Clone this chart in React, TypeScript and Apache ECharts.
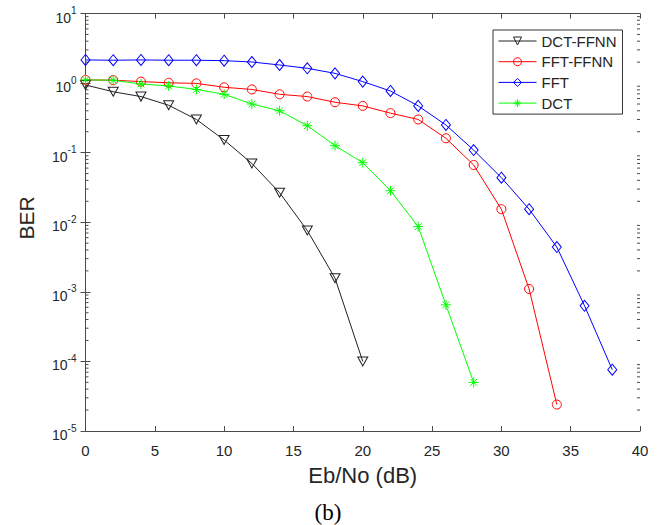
import React, { useEffect, useRef } from "react";
import * as echarts from "echarts";

const ebNo = [0, 2, 4, 6, 8, 10, 12, 14, 16, 18, 20, 22, 24, 26, 28, 30, 32, 34, 36, 38];
const dctFfnn = [0.94, 0.75, 0.64, 0.48, 0.3, 0.152, 0.07, 0.0266, 0.0076, 0.00157, 1.0e-4];
const fftFfnn = [1.11, 1.1, 1.05, 1.01, 0.99, 0.87, 0.81, 0.69, 0.64, 0.53, 0.47, 0.37, 0.3, 0.161, 0.0665, 0.0154, 0.0011, 2.4e-5];
const fft = [2.15, 2.13, 2.15, 2.13, 2.13, 2.1, 2.01, 1.82, 1.63, 1.38, 1.05, 0.77, 0.47, 0.25, 0.109, 0.0437, 0.0154, 0.0044, 6.3e-4, 7.6e-5];
const dct = [1.11, 1.1, 0.97, 0.91, 0.81, 0.69, 0.5, 0.4, 0.244, 0.126, 0.0718, 0.0284, 0.00865, 6.5e-4, 5.0e-5];

const decades = [1e-5, 1e-4, 1e-3, 1e-2, 1e-1, 1, 10];
const minorTicks: number[] = [];
for (let e = -5; e <= 0; e++) {
  for (let k = 2; k <= 9; k++) minorTicks.push(Number((k * Math.pow(10, e)).toPrecision(3)));
}

const pairs = (ys: number[]) => ys.map((y, i) => [ebNo[i], y]);

const AXIS_COLOR = "#4a4a4a";
const TEXT_COLOR = "#262626";
const X_MIN = 0;
const X_MAX = 40;

export default function App() {
  const ref = useRef<HTMLDivElement>(null);
  useEffect(() => {
    if (!ref.current) return;
    const chart = echarts.init(ref.current, undefined, { renderer: "svg" });
    const yBase = {
      type: "log" as const,
      min: 1e-5,
      max: 10,
      logBase: 10,
      splitLine: { show: false },
    };
    const mkSeries = (name: string, ys: number[], color: string, symbol: string, size: any) => ({
      name,
      type: "line",
      data: pairs(ys),
      symbol,
      symbolSize: size,
      showSymbol: true,
      lineStyle: { color, width: 1 },
      itemStyle: { color: "transparent", borderColor: color, borderWidth: 1 },
      emphasis: { disabled: true },
    });
    chart.setOption({
      animation: false,
      grid: { left: 85.5, right: 27, top: 13.5, bottom: 94 },
      legend: {
        orient: "vertical",
        left: 493,
        top: 30,
        data: ["DCT-FFNN", "FFT-FFNN", "FFT", "DCT"],
        itemWidth: 38,
        itemHeight: 10,
        itemGap: 5.7,
        padding: [3.5, 6, 3.5, 5],
        borderColor: "#333",
        borderWidth: 1,
        backgroundColor: "#fff",
        lineStyle: { width: 1 },
        itemStyle: { borderWidth: 1 },
        textStyle: { fontFamily: "Arial, Liberation Sans", fontSize: 15, color: TEXT_COLOR },
      },
      xAxis: [
        {
          type: "value",
          min: X_MIN,
          max: X_MAX,
          interval: 5,
          position: "bottom",
          name: "Eb/No (dB)",
          nameLocation: "middle",
          nameGap: 33,
          nameTextStyle: { fontFamily: "Arial, Liberation Sans", fontSize: 22, color: TEXT_COLOR },
          axisLine: { lineStyle: { color: AXIS_COLOR, width: 1 } },
          axisTick: { inside: true, length: 5, lineStyle: { color: AXIS_COLOR } },
          axisLabel: { fontFamily: "Arial, Liberation Sans", fontSize: 15, color: TEXT_COLOR, margin: 12 },
          splitLine: { show: false },
        },
        {
          type: "value",
          min: X_MIN,
          max: X_MAX,
          interval: 5,
          position: "top",
          axisLine: { lineStyle: { color: AXIS_COLOR, width: 1 } },
          axisTick: { inside: true, length: 5, lineStyle: { color: AXIS_COLOR } },
          axisLabel: { show: false },
          splitLine: { show: false },
        },
      ],
      yAxis: [
        {
          ...yBase,
          position: "left",
          axisLine: { show: true, lineStyle: { color: AXIS_COLOR, width: 1 } },
          axisTick: { inside: true, length: 5, lineStyle: { color: AXIS_COLOR }, customValues: decades },
          axisLabel: {
            customValues: decades,
            margin: 9,
            formatter: (v: number) => `{b|10}{s|${Math.round(Math.log10(v))}}`,
            rich: {
              b: { fontFamily: "Arial, Liberation Sans", fontSize: 14, color: TEXT_COLOR, padding: [8, 0, 0, 0] },
              s: { fontFamily: "Arial, Liberation Sans", fontSize: 10, color: TEXT_COLOR, padding: [0, 0, 6, 0] },
            },
          },
        },
        {
          ...yBase,
          position: "right",
          axisLine: { show: true, lineStyle: { color: AXIS_COLOR, width: 1 } },
          axisTick: { inside: true, length: 5, lineStyle: { color: AXIS_COLOR }, customValues: decades },
          axisLabel: { show: false },
        },
      ],
      graphic: [
        {
          type: "text",
          x: 26,
          y: 218,
          rotation: Math.PI / 2,
          style: {
            text: "BER",
            fontFamily: "Arial, Liberation Sans",
            fontSize: 21,
            fill: TEXT_COLOR,
            align: "center",
            verticalAlign: "middle",
          },
        },
        {
          type: "text",
          x: 328,
          y: 512,
          style: {
            text: "(b)",
            fontFamily: "Liberation Serif, Times New Roman, serif",
            fontSize: 23,
            fill: "#000",
            align: "center",
            verticalAlign: "middle",
          },
        },
      ],
      series: [
        {
          name: "minorTicks",
          type: "custom",
          silent: true,
          clip: false,
          data: minorTicks.map((v) => [X_MIN, v]),
          renderItem: (params: any, api: any) => {
            const v = api.value(1);
            const pL = api.coord([X_MIN, v]);
            const pR = api.coord([X_MAX, v]);
            const style = { stroke: AXIS_COLOR, lineWidth: 1 };
            return {
              type: "group",
              children: [
                { type: "line", shape: { x1: pL[0], y1: pL[1], x2: pL[0] + 3, y2: pL[1] }, style },
                { type: "line", shape: { x1: pR[0], y1: pR[1], x2: pR[0] - 3, y2: pR[1] }, style },
              ],
            };
          },
        },
        mkSeries("DCT-FFNN", dctFfnn, "#222222", "path://M0,0L10,0L5,9Z", [10, 9]),
        mkSeries("FFT-FFNN", fftFfnn, "#ff0000", "circle", 9),
        mkSeries("FFT", fft, "#0000ff", "diamond", [9, 11]),
        mkSeries("DCT", dct, "#00ff00", "path://M5,0L5,10M0,5L10,5M1.6,1.6L8.4,8.4M1.6,8.4L8.4,1.6", 10),
      ],
    });
    return () => chart.dispose();
  }, []);
  return (
    <div
      ref={ref}
      style={{ position: "fixed", left: 0, top: 0, width: 667, height: 525, background: "#fff" }}
    />
  );
}
